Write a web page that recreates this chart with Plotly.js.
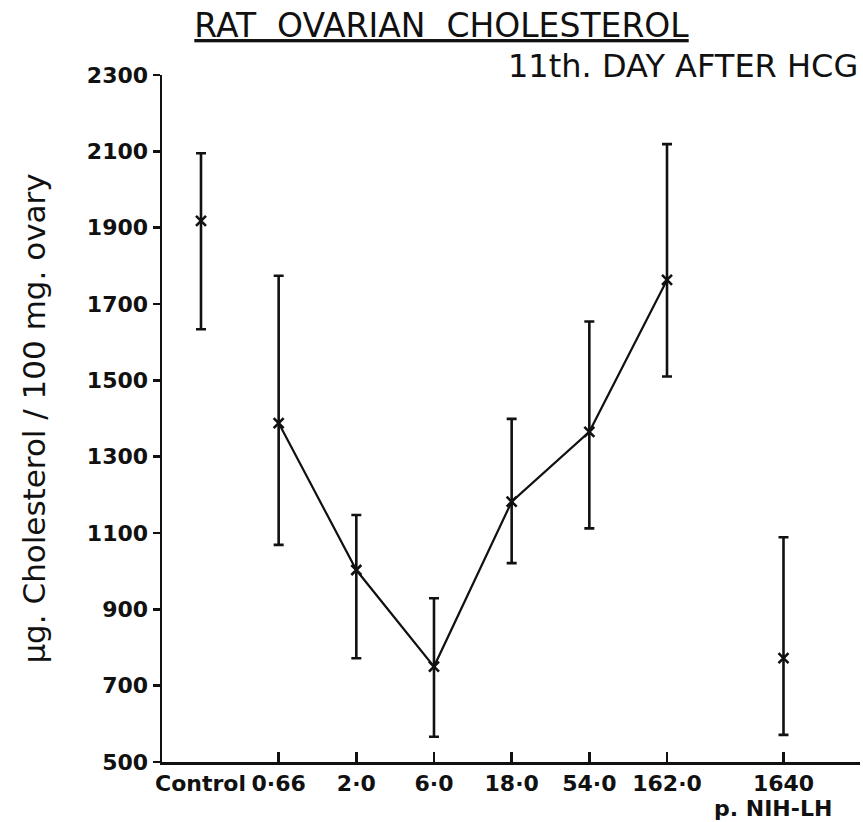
<!DOCTYPE html>
<html><head><meta charset="utf-8">
<script src="https://cdn.plot.ly/plotly-3.0.1.min.js"></script>
<style>html,body{margin:0;padding:0;background:#fff}</style>
</head><body><div id="chart" style="width:863px;height:822px"></div>
<script>
const categories = ['Control', '0·66', '2·0', '6·0', '18·0', '54·0', '162·0', '1640'];
const xPositions = [0, 1, 2, 3, 4, 5, 6, 7.5];
const meanValues = [1918, 1388, 1003, 750, 1182, 1365, 1763, 772];
const upperValues = [2095, 1774, 1147, 929, 1399, 1654, 2119, 1089];
const lowerValues = [1634, 1069, 772, 566, 1021, 1112, 1510, 571];
const joinedToLine = [false, true, true, true, true, true, true, false];
const yTickValues = [500, 700, 900, 1100, 1300, 1500, 1700, 1900, 2100, 2300];

const INK = '#111';
const FONT = 'DejaVu Sans, Verdana, sans-serif';

function pick(arr, flag) { return arr.filter((_, i) => joinedToLine[i] === flag); }
function makeTrace(flag) {
  const m = pick(meanValues, flag), u = pick(upperValues, flag), l = pick(lowerValues, flag);
  return {
    type: 'scatter',
    x: pick(xPositions, flag),
    y: m,
    mode: flag ? 'lines+markers' : 'markers',
    line: {color: INK, width: 2.2},
    marker: {symbol: 'x-thin', size: 10, color: INK, line: {width: 2.6, color: INK}},
    error_y: {type: 'data', symmetric: false,
      array: u.map((v, i) => v - m[i]), arrayminus: m.map((v, i) => v - l[i]),
      color: INK, thickness: 2.6, width: 5},
    hoverinfo: 'skip', showlegend: false
  };
}

const tickFont = {family: FONT, size: 22, color: INK, weight: 'bold'};
const tickedIdx = categories.map((c, i) => i).filter(i => categories[i] !== 'Control');
const untickedIdx = categories.map((c, i) => i).filter(i => categories[i] === 'Control');

const annotations = [
  {text: '11th. DAY AFTER HCG', xref: 'paper', yref: 'paper', x: 1, y: 1,
   xanchor: 'right', yanchor: 'middle', yshift: 9, showarrow: false,
   font: {family: FONT, size: 32, color: INK}},
  {text: 'p. NIH-LH', xref: 'x', yref: 'paper', x: xPositions[xPositions.length - 1], y: 0,
   xanchor: 'right', yanchor: 'middle', xshift: 50, yshift: -46, showarrow: false,
   font: tickFont}
];
untickedIdx.forEach(i => annotations.push({
  text: categories[i], xref: 'x', yref: 'paper', x: xPositions[i], y: 0,
  xanchor: 'center', yanchor: 'middle', yshift: -21, showarrow: false, font: tickFont
}));

const layout = {
  width: 863, height: 822,
  margin: {l: 162, r: 3, t: 75, b: 60},
  paper_bgcolor: '#fff', plot_bgcolor: '#fff',
  font: {family: FONT, color: INK},
  title: {
    text: 'RAT\u00a0\u00a0OVARIAN\u00a0\u00a0CHOLESTEROL',
    font: {family: FONT, size: 33, color: INK, lineposition: 'under'},
    x: 0.5116, xref: 'container', xanchor: 'center',
    y: 0.969, yref: 'container', yanchor: 'middle'
  },
  xaxis: {
    range: [-0.502, 8.485], tickmode: 'array',
    tickvals: tickedIdx.map(i => xPositions[i]), ticktext: tickedIdx.map(i => categories[i]),
    ticks: 'inside', ticklen: 10, tickwidth: 2.5, tickcolor: INK,
    showline: true, linewidth: 2.5, linecolor: INK,
    showgrid: false, zeroline: false, fixedrange: true,
    tickfont: tickFont
  },
  yaxis: {
    range: [500, 2300], tickmode: 'array', tickvals: yTickValues,
    ticks: 'outside', ticklen: 7, tickwidth: 2.5, tickcolor: INK,
    showline: true, linewidth: 2.5, linecolor: INK,
    showgrid: false, zeroline: false, fixedrange: true,
    tickfont: tickFont,
    title: {text: 'μg. Cholesterol / 100 mg. ovary', font: {family: FONT, size: 31, color: INK}, standoff: 32}
  },
  annotations: annotations
};

Plotly.newPlot('chart', [makeTrace(true), makeTrace(false)], layout, {staticPlot: true, displayModeBar: false});
</script></body></html>
